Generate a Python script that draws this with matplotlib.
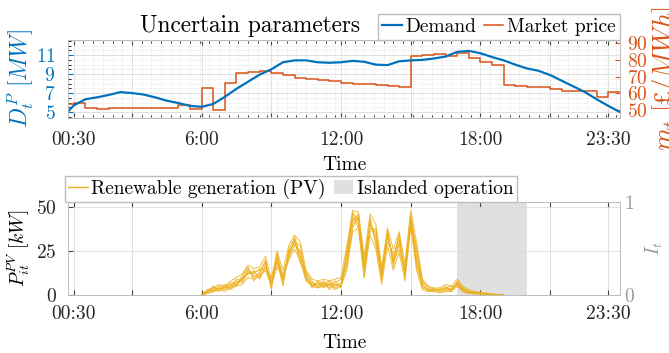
import numpy as np
import matplotlib.pyplot as plt
from matplotlib.patches import Patch
from matplotlib.ticker import AutoMinorLocator

plt.rcParams['font.family'] = 'cmr10'
plt.rcParams['mathtext.fontset'] = 'cm'
plt.rcParams['axes.formatter.use_mathtext'] = True
plt.rcParams['font.size'] = 14

# demand [MW], half-hourly from 00:00 to 24:00
demand_time = np.arange(0, 24.01, 0.5)
demand = [4.4, 5.7, 6.35, 6.55, 6.8, 7.1, 7.0, 6.85, 6.55, 6.2,
          5.95, 5.65, 5.55, 5.85, 6.6, 7.45, 8.2, 8.95, 9.5, 10.25,
          10.45, 10.45, 10.25, 10.2, 10.25, 10.4, 10.3, 10.0, 9.95, 10.35,
          10.45, 10.5, 10.65, 10.85, 11.35, 11.45, 11.2, 10.8, 10.45, 10.0,
          9.6, 9.35, 8.9, 8.3, 7.7, 7.1, 6.35, 5.65, 5.0]

# market price [£/MWh], one value per half hour
price_edges = np.arange(0, 24.01, 0.5)
price = [53.5, 54.5, 51, 50.8, 51, 51, 51.2, 51.3, 51.4, 51.5,
         53, 50.5, 63.5, 50.3, 66, 72.5, 73, 73.2, 72.5, 71,
         69.5, 68.5, 68, 67.3, 66.5, 65.7, 65.5, 65.3, 64.6, 63.8,
         82.5, 83, 83.5, 82.5, 84, 81, 79, 77, 65, 64.4,
         64, 63.6, 62.8, 61.6, 61.4, 61.2, 58, 61]

# PV scenarios [kW], quarter-hourly from 6:00 to 19:00
pv_time = np.arange(6, 19.01, 0.25)
pv_s1 = [0, 2, 4, 3, 5, 4, 7, 9, 15, 10,
         13, 19, 4, 22, 8, 26, 32, 20, 9, 6,
         5, 7, 4, 6, 5, 22, 46, 40, 12, 43,
         30, 9, 36, 18, 33, 12, 45, 22, 5, 3,
         3, 2, 4, 3, 7, 3, 2, 1.5, 1, 1,
         0.5, 0.3, 0]
pv_s2 = [0, 1, 3, 5, 4, 6, 5, 10, 12, 14,
         9, 16, 7, 18, 12, 22, 28, 25, 12, 8,
         4, 6, 8, 5, 7, 18, 40, 44, 18, 38,
         36, 12, 30, 24, 28, 16, 40, 28, 8, 4,
         2, 3, 5, 2, 8, 4, 2, 1, 1.5, 0.5,
         0.5, 0.2, 0]
pv_s3 = [0, 3, 2, 4, 6, 5, 8, 7, 13, 12,
         15, 14, 10, 20, 6, 24, 30, 28, 10, 5,
         7, 4, 6, 8, 4, 26, 42, 46, 15, 40,
         32, 14, 34, 20, 35, 10, 42, 18, 6, 2,
         4, 2, 3, 4, 6, 2, 1, 2, 0.5, 1,
         0.3, 0.2, 0]
pv_s4 = [0, 2, 5, 3, 4, 7, 6, 11, 16, 8,
         12, 20, 3, 24, 10, 20, 33, 22, 8, 7,
         6, 8, 5, 7, 9, 20, 44, 38, 10, 44,
         28, 10, 37, 16, 30, 14, 46, 20, 4, 3,
         2, 4, 3, 3, 7, 3, 1.5, 1, 1, 0.5,
         0.3, 0.1, 0]
pv_s5 = [0, 1, 2, 4, 3, 5, 9, 8, 14, 11,
         10, 17, 8, 20, 5, 25, 29, 24, 11, 4,
         8, 5, 7, 4, 6, 24, 47, 42, 20, 41,
         34, 8, 33, 22, 32, 11, 44, 25, 7, 5,
         3, 2, 4, 5, 5, 4, 2, 1, 1, 0.5,
         0.5, 0.2, 0]
pv_s6 = [0, 2, 3, 2, 5, 3, 6, 9, 12, 13,
         14, 18, 6, 21, 9, 23, 31, 18, 13, 6,
         5, 7, 3, 6, 5, 16, 38, 45, 14, 36,
         38, 13, 35, 19, 26, 13, 43, 16, 6, 3,
         3, 3, 2, 3, 6, 2, 1, 1.5, 1, 0.3,
         0.2, 0.1, 0]
pv_s7 = [0, 1, 2, 3, 2, 4, 5, 6, 10, 9,
         11, 14, 5, 16, 10, 20, 26, 19, 8, 5,
         4, 5, 6, 3, 5, 14, 36, 38, 10, 34,
         26, 6, 28, 14, 24, 8, 38, 14, 3, 2,
         2, 1, 2, 2, 5, 2, 1, 0.5, 0.5, 0.3,
         0.1, 0.1, 0]
pv_s8 = [0, 3, 4, 6, 5, 8, 10, 12, 17, 15,
         16, 22, 9, 25, 14, 28, 34, 30, 14, 9,
         8, 9, 8, 9, 10, 28, 48, 47, 22, 46,
         40, 16, 38, 26, 36, 18, 48, 30, 9, 5,
         4, 4, 6, 5, 9, 5, 3, 2, 1.5, 1,
         0.6, 0.3, 0]
pv_scenarios = [pv_s1, pv_s2, pv_s3, pv_s4, pv_s5, pv_s6, pv_s7, pv_s8]

# islanded operation window [h]
island_start, island_end = 17, 20

tick_pos = [0.5, 3, 6, 9, 12, 15, 18, 21, 23.5]
tick_lab = ['00:30', '', '6:00', '', '12:00', '', '18:00', '', '23:30']

blue = '#0072BD'
orange = '#D95319'
yellow = '#EDB120'
gray = '#9a9a9a'
spine_c = '#bdbdbd'

fig = plt.figure(figsize=(6.69, 3.53), dpi=100)
ax1 = fig.add_axes([0.1016, 0.6657, 0.825, 0.221])
ax3 = fig.add_axes([0.1016, 0.1643, 0.825, 0.2635])

# ---- top: demand and price (both lines live on the twin so they sit above the grid)
ax2 = ax1.twinx()
ax2.plot(price_edges, np.append(price, price[-1]), drawstyle='steps-post',
         color=orange, lw=1.1)
l1, = ax2.plot(demand_time, demand, color=blue, lw=1.6, label='Demand',
               transform=ax1.transData)
l2, = ax2.plot([], [], color=orange, lw=1.1, label='Market price')

ax1.set_xlim(0.25, 24)
ax1.set_ylim(4.37, 12.6)
ax2.set_ylim(45.2, 92)
ax1.set_yticks([5, 7, 9, 11])
ax2.set_yticks([50, 60, 70, 80, 90])
ax1.set_xticks(tick_pos)
ax1.set_xticklabels(tick_lab)
ax1.xaxis.set_minor_locator(AutoMinorLocator(6))
ax1.yaxis.set_minor_locator(AutoMinorLocator(4))
ax1.grid(True, which='major', color='#dcdcdc', lw=0.6)
ax1.grid(True, which='minor', color='#efefef', lw=0.5)
ax1.tick_params(axis='both', which='both', direction='in', top=True)
ax1.tick_params(axis='y', colors=blue, pad=9)
ax2.tick_params(axis='y', direction='in', colors=orange, pad=5)
ax1.tick_params(axis='x', pad=9.5, colors='#444444', labelcolor='#262626')
ax1.set_ylabel(r'$D_t^P\ [MW]$', color=blue, fontsize=17, labelpad=0)
ax2.set_ylabel(r'$m_t\ [\sterling/MWh]$', color=orange, fontsize=19,
               labelpad=2)
ax1.set_xlabel('Time', labelpad=5)
for a in (ax1, ax2):
    for s in a.spines.values():
        s.set_color(spine_c)
        s.set_linewidth(0.6)
ax1.set_title('Uncertain parameters', x=0.33, pad=6)
ax2.legend(handles=[l1, l2], loc='lower right', bbox_to_anchor=(1.0, 1.0),
           ncol=2, handlelength=1.0, handletextpad=0.2, columnspacing=0.4,
           borderpad=0.2, borderaxespad=0, fancybox=False, framealpha=1,
           edgecolor=spine_c)

# ---- bottom: PV scenarios and islanded operation
ax4 = ax3.twinx()
ax3.set_zorder(ax4.get_zorder() + 1)
ax3.patch.set_visible(False)
ax4.axvspan(island_start, island_end, color='#e0e0e0', lw=0)
for s in pv_scenarios:
    ax3.plot(pv_time, s, color=yellow, lw=0.7, alpha=0.85)

ax3.set_xlim(0.25, 24)
ax3.set_ylim(0, 52.8)
ax4.set_ylim(0, 1)
ax3.set_yticks([0, 25, 50])
ax4.set_yticks([0, 1])
ax3.set_xticks(tick_pos)
ax3.set_xticklabels(tick_lab)
ax3.grid(True, color='#dcdcdc', lw=0.6)
ax3.tick_params(axis='both', direction='in', top=True, colors='#444444',
                labelcolor='#262626')
ax3.tick_params(axis='y', pad=8)
ax3.tick_params(axis='x', pad=7)
ax4.tick_params(axis='y', direction='in', colors=gray, pad=3)
ax3.set_ylabel(r'$P_{it}^{PV}\ [kW]$', labelpad=3)
ax4.set_ylabel(r'$I_t$', color=gray, labelpad=6)
ax3.set_xlabel('Time', labelpad=8)
for a in (ax3, ax4):
    for s in a.spines.values():
        s.set_color(spine_c)
        s.set_linewidth(0.6)
pv_handle = plt.Line2D([], [], color=yellow, lw=1.0)
isl_handle = Patch(facecolor='#e0e0e0', edgecolor='none')
ax3.legend([pv_handle, isl_handle],
           ['Renewable generation (PV)', 'Islanded operation'],
           loc='lower left', bbox_to_anchor=(-0.005, 1.0), ncol=2,
           handlelength=1.0, handletextpad=0.2, columnspacing=0.4,
           borderpad=0.15, borderaxespad=0, fancybox=False, framealpha=1,
           edgecolor=spine_c)

fig.savefig('out.png', dpi=100)
